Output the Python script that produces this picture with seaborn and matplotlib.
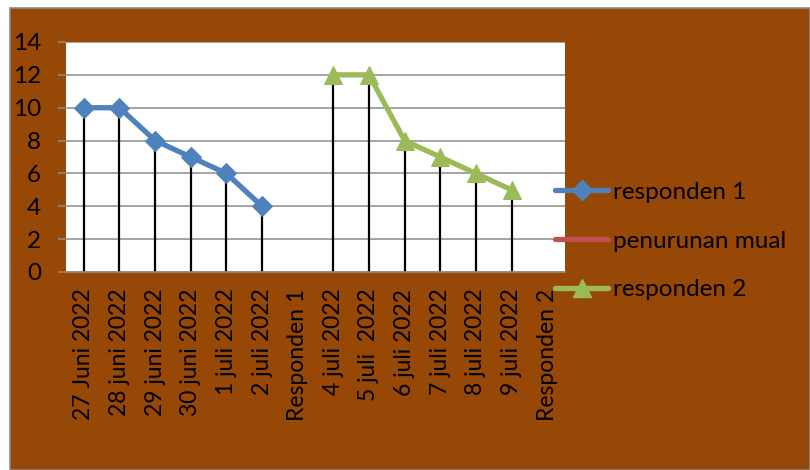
import numpy as np
import pandas as pd
import matplotlib
matplotlib.use("Agg")
import matplotlib.pyplot as plt
from matplotlib.patches import Rectangle
from matplotlib.lines import Line2D
import seaborn as sns

categories = ["27 Juni 2022", "28 juni 2022", "29 juni 2022", "30 juni 2022",
              "1 juli 2022", "2 juli 2022", "Responden 1", "4 juli 2022",
              "5 juli  2022", "6 juli 2022", "7 juli 2022", "8 juli 2022",
              "9 juli 2022", "Responden 2"]
responden1 = [10, 10, 8, 7, 6, 4, np.nan, np.nan, np.nan, np.nan, np.nan, np.nan, np.nan, np.nan]
penurunan_mual = [np.nan] * 14
responden2 = [np.nan, np.nan, np.nan, np.nan, np.nan, np.nan, np.nan, 12, 12, 8, 7, 6, 5, np.nan]
y_ticks = [0, 2, 4, 6, 8, 10, 12, 14]

BLUE = "#4F81BD"
RED = "#C0504D"
GREEN = "#9BBB59"
BROWN = "#974806"
GRID = "#8C8C8C"

sns.set_theme(style="white")
plt.rcParams["font.family"] = ["Lato", "DejaVu Sans"]

fig = plt.figure(figsize=(8.1, 4.7), dpi=100, facecolor="white")
fig.patches.append(Rectangle((10 / 810, 0), 1 - 10 / 810, 1 - 8 / 470,
                             transform=fig.transFigure, facecolor=BROWN,
                             edgecolor="#8C8C8C", linewidth=1.2, zorder=-10))

ax = fig.add_axes([66 / 810, 1 - 272 / 470, (565 - 66) / 810, (272 - 42) / 470])
ax.set_zorder(1)
ax.set_facecolor("white")

x = np.arange(len(categories))
df = pd.DataFrame({"x": x, "r1": responden1, "pm": penurunan_mual, "r2": responden2})

# drop lines
for col in ["r1", "r2"]:
    d = df.dropna(subset=[col])
    ax.vlines(d["x"], 0, d[col], color="black", linewidth=1.6, zorder=2)

d1 = df.dropna(subset=["r1"])
sns.lineplot(data=d1, x="x", y="r1", ax=ax, color=BLUE, linewidth=3.8,
             marker="D", markersize=10, markeredgecolor=BLUE, zorder=3)
d2 = df.dropna(subset=["r2"])
sns.lineplot(data=d2, x="x", y="r2", ax=ax, color=GREEN, linewidth=3.8,
             marker="^", markersize=13, markeredgecolor=GREEN, zorder=3)

ax.set_xlim(-0.5, len(categories) - 0.5)
ax.set_ylim(0, 14)
ax.set_yticks(y_ticks)
ax.set_yticklabels([str(t) for t in y_ticks], fontsize=17.5, color="black")
ax.set_xticks(x)
ax.set_xticklabels(categories, rotation=90, fontsize=16.5, color="black",
                   va="top", ha="center")
ax.tick_params(axis="y", length=6, width=1.1, color=GRID, pad=12, left=True)
ax.tick_params(axis="x", length=0, pad=12)
ax.yaxis.grid(True, color=GRID, linewidth=1.1)
ax.set_axisbelow(True)
for s in ["top", "right", "left"]:
    ax.spines[s].set_visible(False)
ax.spines["bottom"].set_color(GRID)
ax.spines["bottom"].set_linewidth(1.2)
ax.set_xlabel("")
ax.set_ylabel("")

handles = [
    Line2D([], [], color=BLUE, linewidth=3.8, marker="D", markersize=10),
    Line2D([], [], color=RED, linewidth=3.8),
    Line2D([], [], color=GREEN, linewidth=3.8, marker="^", markersize=13),
]
labels = ["responden 1", "penurunan mual", "responden 2"]
leg = fig.legend(handles, labels, loc="center left",
                 bbox_to_anchor=(555 / 810, 1 - 241 / 470),
                 bbox_transform=fig.transFigure, frameon=False, fontsize=17.5,
                 handlelength=2.2, handletextpad=0.2, labelspacing=1.15,
                 borderpad=0, borderaxespad=0)
leg.set_zorder(5)
for t in leg.get_texts():
    t.set_color("black")

fig.savefig("out.png", dpi=100, facecolor="white")
